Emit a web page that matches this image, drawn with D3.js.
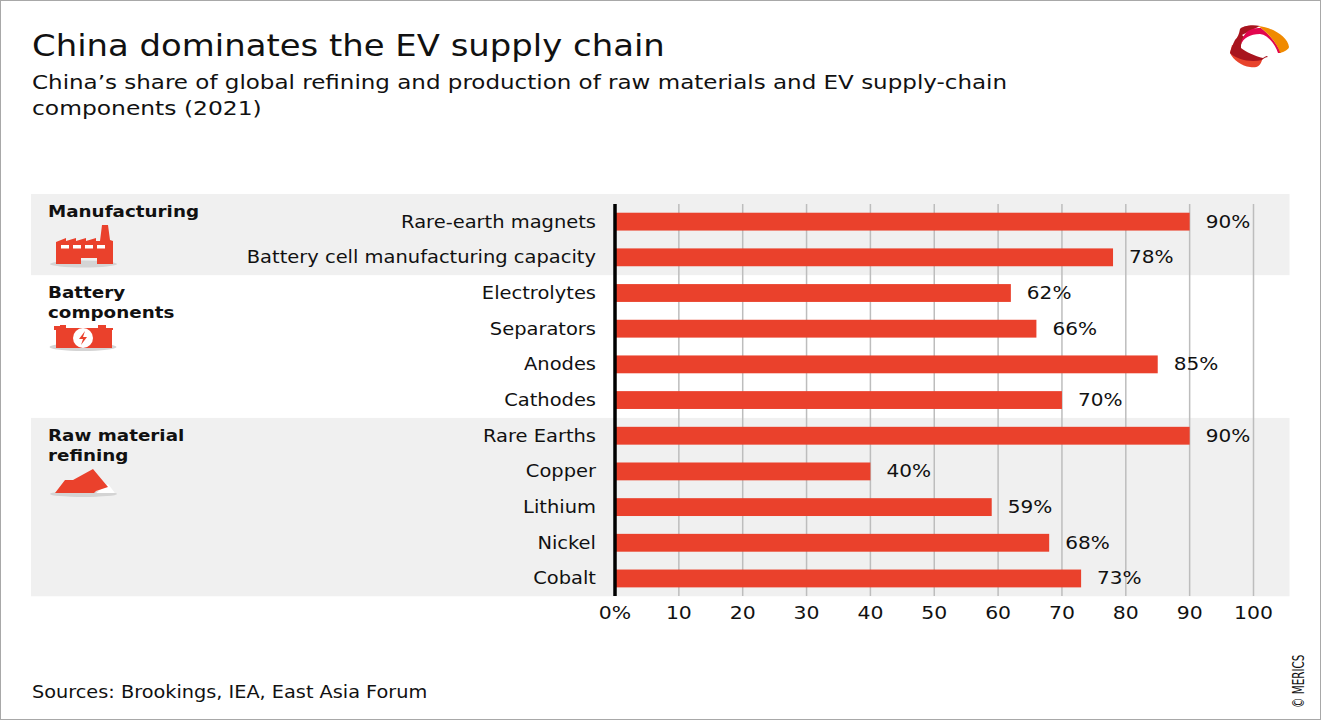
<!DOCTYPE html>
<html>
<head>
<meta charset="utf-8">
<script src="https://cdn.jsdelivr.net/npm/d3@7"></script>
<style>
  html, body { margin: 0; padding: 0; background: #fff; }
  svg { display: block; }
  text { font-family: "DejaVu Sans", sans-serif; fill: #111; }
</style>
</head>
<body>
<svg id="chart"></svg>
<script>
const categories = ["Rare-earth magnets", "Battery cell manufacturing capacity", "Electrolytes", "Separators", "Anodes", "Cathodes", "Rare Earths", "Copper", "Lithium", "Nickel", "Cobalt"];
const shares = [90, 78, 62, 66, 85, 70, 90, 40, 59, 68, 73];
const xTicks = [0, 10, 20, 30, 40, 50, 60, 70, 80, 90, 100];
const groupNames = [["Manufacturing"], ["Battery", "components"], ["Raw material", "refining"]];
const groupSpans = [["Rare-earth magnets", "Battery cell manufacturing capacity"], ["Electrolytes", "Cathodes"], ["Rare Earths", "Cobalt"]];

const width = 1321, height = 721;
const red = "#ea412c", shade = "#f0f0f0", grid = "#bdbdbd";

const svg = d3.select("#chart").attr("width", width).attr("height", height);

const x = d3.scaleLinear().domain([0, 100]).range([615, 1253.5]);
const y = d3.scaleBand().domain(categories).range([203.8, 596.3]).paddingInner(0.5).paddingOuter(0.25);

// page border
svg.append("rect").attr("x", 0.5).attr("y", 0.5).attr("width", width - 1).attr("height", height - 2)
  .attr("fill", "none").attr("stroke", "#a8a8a8");

// stretched text, the original is wider than any installed font
function label(sel, px, py, str, size, sx, anchor, weight) {
  return sel.append("text")
    .attr("transform", `translate(${px},${py}) scale(${sx},1)`)
    .attr("text-anchor", anchor || "start")
    .attr("font-size", size)
    .attr("font-weight", weight || "normal")
    .text(str);
}

label(svg, 32, 56, "China dominates the EV supply chain", 31, 1.093);
label(svg, 32, 89, "China’s share of global refining and production of raw materials and EV supply-chain", 20, 1.15);
label(svg, 32, 115, "components (2021)", 20, 1.17);
label(svg, 32, 698, "Sources: Brookings, IEA, East Asia Forum", 17, 1.135);

svg.append("text")
  .attr("transform", "translate(1304,708) rotate(-90) scale(0.65,1)")
  .attr("font-size", 16)
  .attr("font-family", "Liberation Sans")
  .text("© MERICS");

// shaded group bands
const bandStep = y.step();
[0, 2].forEach(i => {
  const top = i === 0 ? 194 : y(groupSpans[i][0]) + y.bandwidth() / 2 - bandStep / 2;
  const bottom = y(groupSpans[i][1]) + y.bandwidth() / 2 + bandStep / 2;
  svg.append("rect").attr("x", 31).attr("y", top).attr("width", 1258.5).attr("height", bottom - top).attr("fill", shade);
});

// grid lines
svg.append("g").selectAll("line").data(xTicks.slice(1)).join("line")
  .attr("x1", d => x(d)).attr("x2", d => x(d))
  .attr("y1", 204).attr("y2", 596)
  .attr("stroke", grid).attr("stroke-width", 1.5);

// bars
svg.append("g").selectAll("rect").data(categories).join("rect")
  .attr("x", x(0))
  .attr("y", d => y(d))
  .attr("width", (d, i) => x(shares[i]) - x(0))
  .attr("height", y.bandwidth())
  .attr("fill", red);

// zero line
svg.append("line").attr("x1", x(0)).attr("x2", x(0)).attr("y1", 204).attr("y2", 596)
  .attr("stroke", "#000").attr("stroke-width", 3.5);

// category labels
categories.forEach(c => {
  label(svg, 596, y(c) + y.bandwidth() / 2 + 6, c, 17, 1.145, "end");
});

// value labels
categories.forEach((c, i) => {
  label(svg, x(shares[i]) + 16, y(c) + y.bandwidth() / 2 + 6, shares[i] + "%", 17, 1.18);
});

// x axis labels
xTicks.forEach(t => {
  label(svg, x(t), 619, t === 0 ? "0%" : t, 17, 1.2, "middle");
});

// group titles
const groupY = [217, 298, 441];
groupNames.forEach((lines, g) => {
  lines.forEach((s, j) => {
    label(svg, 48, groupY[g] + j * 20, s, 16.5, 1.11, "start", "bold");
  });
});

// icons
const factory = svg.append("g").attr("transform", "translate(50,224)");
factory.append("ellipse").attr("cx", 33.5).attr("cy", 40).attr("rx", 33.5).attr("ry", 3.5).attr("fill", "#d4d4d4");
factory.append("path").attr("fill", red)
  .attr("d", "M6,40V18L16,14V17L26,14V17L36,14V17L46,14V17L50,17L52,1H58L60,16L63,17V40H47V34H31V40Z");
factory.selectAll(".win").data([0, 1, 2, 3]).join("rect")
  .attr("x", d => 11 + d * 12).attr("y", 21).attr("width", 8).attr("height", 3.5).attr("fill", "#fff");

const battery = svg.append("g").attr("transform", "translate(50,325)");
battery.append("ellipse").attr("cx", 33).attr("cy", 22).attr("rx", 33.5).attr("ry", 4).attr("fill", "#d4d4d4");
battery.append("path").attr("fill", red)
  .attr("d", "M4,3V1H10V0H16V3H48V0H56V3H63V5H62V23H6V5H4Z");
battery.append("circle").attr("cx", 33).attr("cy", 13).attr("r", 10).attr("fill", "#fff");
battery.append("path").attr("fill", red).attr("d", "M35,6L29,14H33L31,20L37,12H33Z");

const pile = svg.append("g").attr("transform", "translate(50,469)");
pile.append("ellipse").attr("cx", 33.5).attr("cy", 25).attr("rx", 33.5).attr("ry", 3).attr("fill", "#d4d4d4");
pile.append("path").attr("fill", "#fff").attr("d", "M46,24L58,15L65,24Z");
pile.append("path").attr("fill", red).attr("d", "M5,24L15,11L23,11L43,0L58,18L46,22L44,24Z");

// logo
const logo = svg.append("g").attr("transform", "translate(1230,25)");
logo.append("path").attr("fill", "#e8432c").attr("d", "M0,28C3,35 12,41 20,42C26,43 30,42 32,35L12,23L2,20Z");
logo.append("path").attr("fill", "#a8141e").attr("d", "M0,28C6,34 20,38 32,35C34,33 36,32 38,32L12,10L30,1C22,-1 12,1 10,4C9,9 8,12 5,15C3,19 1,23 0,28Z");
logo.append("path").attr("fill", "#e2064e").attr("d", "M11,18C13,10 17,6 20,5C24,3 28,3 31,3C40,10 48,20 51,28L46,28L32,13Z");
logo.append("path").attr("fill", "#f08a00").attr("d", "M28,1C42,2 58,12 59,22C59,24 54,27 50,28C48,20 38,7 28,1Z");
logo.append("path").attr("fill", "#fff").attr("d", "M11,20C13,13 20,9 30,9C38,10 45,19 48,28C43,29 37,30 33,33C25,31 16,27 11,23Z");
</script>
</body>
</html>
